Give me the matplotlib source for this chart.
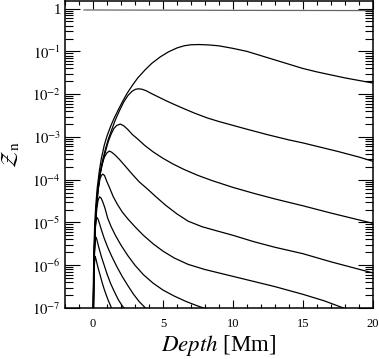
import matplotlib
matplotlib.use('Agg')
import matplotlib.pyplot as plt
import numpy as np
from matplotlib.ticker import LogLocator, MultipleLocator, FuncFormatter, NullFormatter

plt.rcParams['font.family'] = ['Liberation Serif', 'DejaVu Serif']
plt.rcParams['mathtext.fontset'] = 'stix'

# top (nearly constant) level
top_x = [-0.64, 2, 5, 10, 15, 20]
top_y = [0.93, 0.925, 0.92, 0.91, 0.905, 0.90]

# curves as depth [Mm] and log10 Z
a_x = [0.0, 0.03, 0.07, 0.12, 0.2, 0.3, 0.45, 0.6, 0.8, 1.0, 1.25, 1.5, 1.8, 2.1, 2.4, 2.8, 3.2, 3.7,
       4.2, 4.8, 5.4, 6.0, 6.5, 7.0, 7.6, 8.3, 9.0, 10, 11, 12, 13, 14, 15, 16, 17, 18, 19, 20]
a_l = [-7.3, -6.3, -5.6, -5.05, -4.6, -4.2, -3.8, -3.5, -3.2, -2.98, -2.76, -2.57, -2.37, -2.18, -2.0,
       -1.8, -1.62, -1.44, -1.28, -1.13, -1.01, -0.92, -0.87, -0.845, -0.84, -0.85, -0.87, -0.93, -1.0,
       -1.1, -1.2, -1.3, -1.40, -1.48, -1.55, -1.62, -1.68, -1.74]

b_x = [0.02, 0.05, 0.09, 0.15, 0.23, 0.33, 0.5, 0.7, 0.9, 1.1, 1.35, 1.6, 1.9, 2.2, 2.5, 2.8, 3.05,
       3.25, 3.5, 3.8, 4.2, 4.7, 5.2, 5.8, 6.5, 7.3, 8.2, 9, 10, 11, 12.5, 14, 15, 16, 17.5, 19, 20]
b_l = [-7.3, -6.3, -5.6, -5.1, -4.65, -4.25, -3.85, -3.53, -3.27, -3.05, -2.82, -2.6, -2.38, -2.18,
       -2.03, -1.93, -1.885, -1.875, -1.885, -1.92, -1.99, -2.07, -2.15, -2.24, -2.34, -2.45, -2.56,
       -2.64, -2.73, -2.82, -2.95, -3.07, -3.14, -3.22, -3.34, -3.47, -3.57]

c_x = [0.03, 0.06, 0.1, 0.16, 0.24, 0.35, 0.5, 0.7, 0.9, 1.1, 1.3, 1.5, 1.7, 1.95, 2.2, 2.5, 2.8,
       3.2, 3.7, 4.3, 5.0, 5.7, 6.5, 7.5, 8.5, 10, 11.5, 13, 15, 17, 18.5, 20]
c_l = [-7.3, -6.3, -5.65, -5.15, -4.7, -4.3, -3.9, -3.58, -3.33, -3.1, -2.93, -2.8, -2.73, -2.70,
       -2.74, -2.83, -2.94, -3.05, -3.2, -3.35, -3.5, -3.63, -3.76, -3.9, -4.02, -4.18, -4.32, -4.45,
       -4.61, -4.78, -4.90, -5.02]

d_x = [0.03, 0.06, 0.1, 0.15, 0.22, 0.32, 0.45, 0.6, 0.8, 1.0, 1.17, 1.35, 1.6, 1.9, 2.3, 2.8, 3.3,
       3.9, 4.5, 5.2, 6.0, 6.8, 7.8, 9, 10, 11.5, 13, 15, 17, 18.5, 20]
d_l = [-7.3, -6.3, -5.7, -5.2, -4.75, -4.35, -3.98, -3.7, -3.48, -3.37, -3.33, -3.36, -3.43, -3.53,
       -3.68, -3.87, -4.05, -4.22, -4.4, -4.6, -4.8, -4.97, -5.1, -5.21, -5.3, -5.45, -5.58, -5.73,
       -5.92, -6.05, -6.18]

e_x = [0.02, 0.05, 0.09, 0.14, 0.2, 0.28, 0.38, 0.5, 0.6, 0.7, 0.82, 1.0, 1.2, 1.45, 1.75, 2.1, 2.5,
       3.0, 3.6, 4.3, 5.0, 5.8, 6.8, 8, 9, 10, 11.5, 13, 15, 16.5, 17.9]
e_l = [-7.3, -6.4, -5.75, -5.25, -4.85, -4.5, -4.2, -3.98, -3.9, -3.87, -3.9, -4.05, -4.2, -4.4,
       -4.58, -4.76, -4.92, -5.1, -5.3, -5.5, -5.67, -5.83, -5.98, -6.1, -6.18, -6.26, -6.38, -6.5,
       -6.68, -6.83, -7.0]

f_x = [0.02, 0.05, 0.09, 0.14, 0.2, 0.28, 0.37, 0.47, 0.58, 0.7, 0.85, 1.05, 1.3, 1.6, 2.0, 2.5,
       3.0, 3.6, 4.3, 5.0, 5.8, 6.6, 7.3, 7.9]
f_l = [-7.3, -6.4, -5.8, -5.3, -4.95, -4.65, -4.47, -4.40, -4.43, -4.52, -4.66, -4.9, -5.1, -5.3,
       -5.53, -5.78, -6.0, -6.22, -6.42, -6.58, -6.72, -6.84, -6.93, -7.0]

g_x = [0.01, 0.04, 0.08, 0.13, 0.19, 0.27, 0.36, 0.47, 0.6, 0.8, 1.05, 1.35, 1.7, 2.1, 2.5, 2.9,
       3.3, 3.75]
g_l = [-7.3, -6.5, -5.85, -5.35, -5.02, -4.88, -4.92, -5.03, -5.17, -5.37, -5.58, -5.8, -6.03,
       -6.27, -6.48, -6.68, -6.85, -7.0]

h_x = [0.01, 0.04, 0.08, 0.13, 0.19, 0.26, 0.35, 0.47, 0.62, 0.8, 1.0, 1.25, 1.5, 1.8, 2.05, 2.22]
h_l = [-7.3, -6.6, -6.0, -5.55, -5.34, -5.38, -5.5, -5.65, -5.82, -6.0, -6.2, -6.42, -6.6, -6.8,
       -6.93, -7.0]

i_x = [0.01, 0.04, 0.08, 0.14, 0.2, 0.28, 0.38, 0.5, 0.65, 0.8, 0.95, 1.1, 1.22, 1.32]
i_l = [-7.3, -6.7, -6.1, -5.79, -5.84, -5.95, -6.08, -6.22, -6.4, -6.56, -6.7, -6.83, -6.92, -7.0]

curves = [(a_x, a_l), (b_x, b_l), (c_x, c_l), (d_x, d_l), (e_x, e_l),
          (f_x, f_l), (g_x, g_l), (h_x, h_l), (i_x, i_l)]

fig = plt.figure(figsize=(3.79, 3.59), dpi=100)
ax = fig.add_axes([0.1715, 0.142, 0.8125, 0.855])

ax.plot(top_x, top_y, color='0.4', lw=0.9)
for cx, cl in curves:
    ax.plot(cx, 10.0 ** np.array(cl), color='k', lw=0.9)

ax.set_yscale('log')
ax.set_xlim(-2, 20)
ax.set_ylim(1e-7, 1.5)

ax.xaxis.set_major_locator(MultipleLocator(5))
ax.xaxis.set_minor_locator(MultipleLocator(1))
ax.yaxis.set_major_locator(LogLocator(base=10, numticks=20))
ax.yaxis.set_minor_locator(LogLocator(base=10, subs=np.arange(2, 10), numticks=20))
ax.yaxis.set_minor_formatter(NullFormatter())


def yfmt(v, pos):
    e = int(round(np.log10(v)))
    if e == 0:
        return '1'
    return r'$10^{%d}$' % e


ax.yaxis.set_major_formatter(FuncFormatter(yfmt))

ax.tick_params(which='both', direction='in', top=True, right=True, width=0.8)
ax.tick_params(axis='y', which='major', length=11, labelsize=10.5, pad=3)
ax.tick_params(axis='y', which='minor', length=6)
ax.tick_params(axis='x', which='major', length=6, labelsize=9, pad=7)
ax.tick_params(axis='x', which='minor', length=3)
for s in ax.spines.values():
    s.set_linewidth(1.1)

ax.set_xlabel(r'$\mathit{Depth}$ [Mm]', fontsize=16.5, labelpad=2)
ax.set_ylabel(r'$\mathcal{Z}_{\mathrm{n}}$', fontsize=16, labelpad=8)

fig.savefig('out.png', dpi=100)
